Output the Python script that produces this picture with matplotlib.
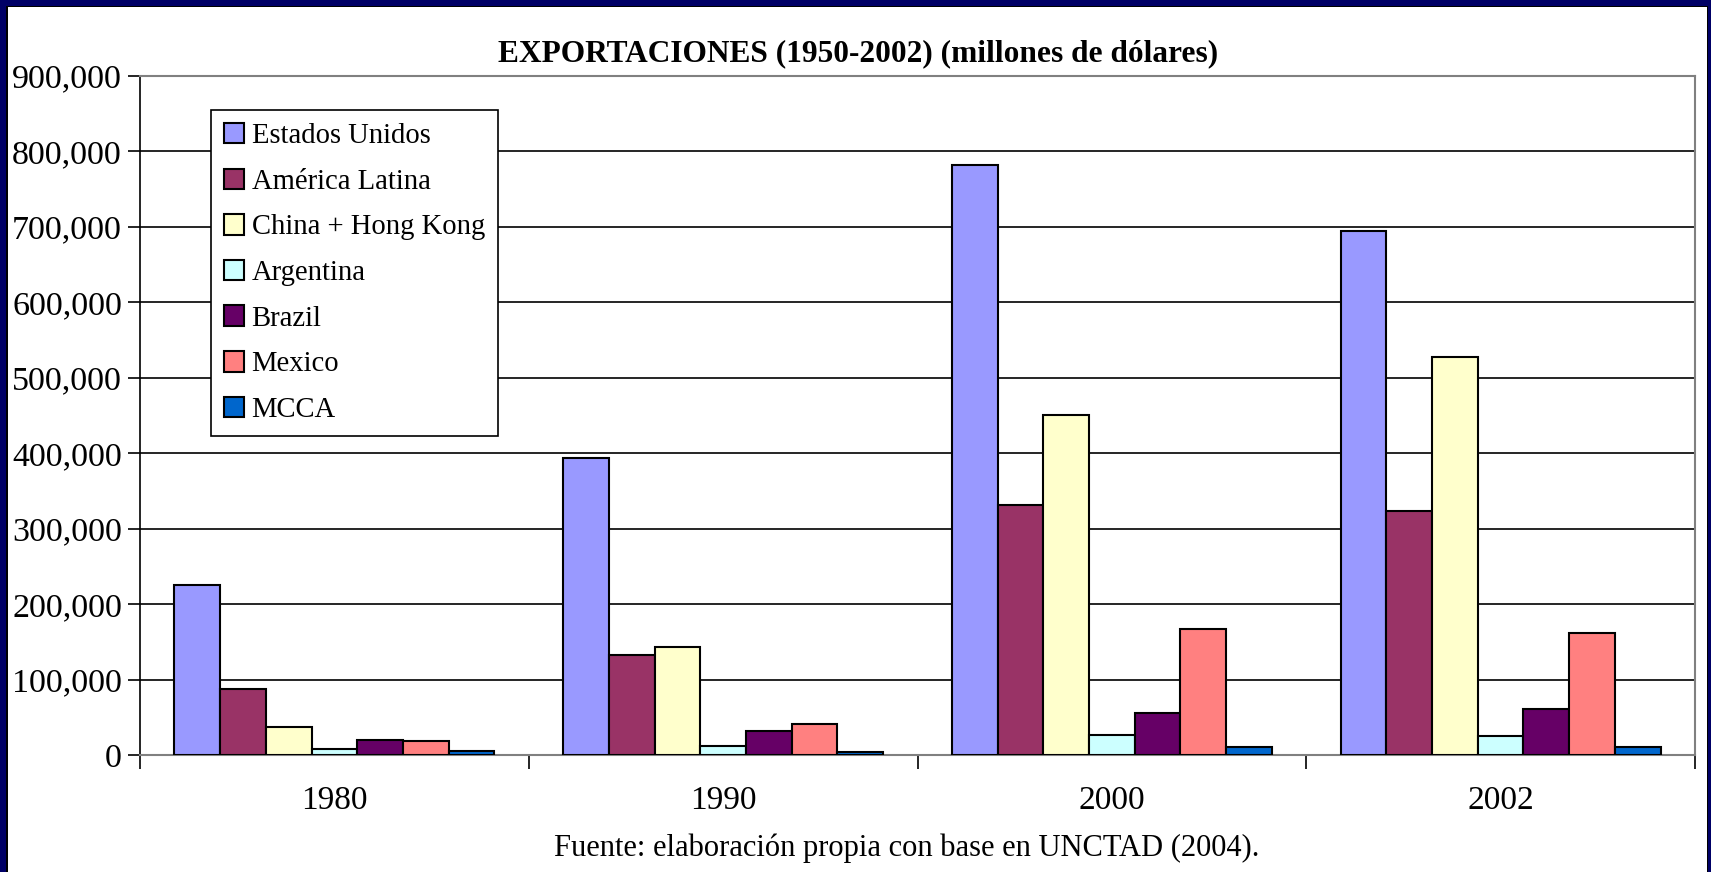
import matplotlib
matplotlib.use("Agg")
import matplotlib.pyplot as plt
import numpy as np
from matplotlib.patches import Rectangle
from matplotlib.ticker import FuncFormatter

# datos (millones de dólares)
anios = ["1980", "1990", "2000", "2002"]
series = ["Estados Unidos", "América Latina", "China + Hong Kong",
          "Argentina", "Brazil", "Mexico", "MCCA"]
estados_unidos = [225600, 394000, 782000, 694000]
america_latina = [87000, 133000, 331000, 324000]
china_hk = [37500, 143000, 451000, 528000]
argentina = [8000, 12400, 26300, 25700]
brazil = [20500, 31500, 55500, 60500]
mexico = [18500, 40500, 166500, 161500]
mcca = [5000, 4500, 11000, 11000]
valores = [estados_unidos, america_latina, china_hk, argentina, brazil, mexico, mcca]
colores = ["#9999FF", "#993366", "#FFFFCC", "#CCFFFF", "#660066", "#FF8080", "#0066CC"]

plt.rcParams["font.family"] = ["Liberation Serif", "DejaVu Serif"]

fig = plt.figure(figsize=(17.11, 8.72), dpi=100)
fig.patch.set_facecolor("#000066")
W, H = 1711, 872
# fondo blanco con marco negro fino
fig.patches.append(Rectangle((6 / W, 0), (1708 - 6) / W, (872 - 6) / H,
                             transform=fig.transFigure, facecolor="black",
                             edgecolor="none", zorder=-2))
fig.patches.append(Rectangle((8 / W, 0), (1707 - 8) / W, (872 - 7) / H,
                             transform=fig.transFigure, facecolor="white",
                             edgecolor="none", zorder=-1))

ax = fig.add_axes([140 / W, 1 - 755 / H, (1695 - 140) / W, (755 - 76) / H])
ax.set_zorder(2)
ax.set_facecolor("white")

n = len(series)
gap = 1.5
ancho = 1 / (n + gap)
x = np.arange(len(anios))
for i, (nombre, vals, c) in enumerate(zip(series, valores, colores)):
    pos = x - 0.5 + ancho * (gap / 2) + ancho * (i + 0.5)
    ax.bar(pos, vals, width=ancho, color=c, edgecolor="black", linewidth=1.5,
           label=nombre, zorder=3)

ax.set_xlim(-0.5, len(anios) - 0.5)
ax.set_ylim(0, 900000)
ax.set_yticks(np.arange(0, 900001, 100000))
ax.yaxis.set_major_formatter(FuncFormatter(lambda v, p: f"{int(v):,}"))
ax.yaxis.grid(True, color="black", linewidth=1.2, zorder=0)
ax.set_axisbelow(True)

ax.set_xticks(x)
ax.set_xticklabels(anios)
ax.set_xticks(np.arange(-0.5, len(anios)), minor=True)
ax.tick_params(axis="x", which="major", length=0, pad=22, labelsize=24)
ax.tick_params(axis="x", which="minor", length=10, width=1.2, direction="out")
ax.tick_params(axis="y", length=9, width=1.2, direction="out", pad=4, labelsize=24.5)

for lado in ["top", "right"]:
    ax.spines[lado].set_color("#808080")
    ax.spines[lado].set_linewidth(1.5)
ax.spines["left"].set_color("black")
ax.spines["left"].set_linewidth(1.2)
ax.spines["bottom"].set_color("#808080")
ax.spines["bottom"].set_linewidth(1.5)

fig.text(786 * 1.0912 / W, 1 - 54 / H, "EXPORTACIONES (1950-2002) (millones de dólares)",
         ha="center", va="center", fontsize=22.6, fontweight="bold")
fig.text(831 * 1.0912 / W, 1 - 848 / H, "Fuente: elaboración propia con base en UNCTAD (2004).",
         ha="center", va="center", fontsize=22)

leg = ax.legend(loc="upper left", bbox_to_anchor=((211 - 140) / (1695 - 140), (755 - 110) / (755 - 76)),
                fontsize=20.6, frameon=True, fancybox=False, edgecolor="black",
                framealpha=1, borderpad=0.45, labelspacing=0.68, handlelength=0.72,
                handleheight=0.72, handletextpad=0.25, borderaxespad=0)
leg.get_frame().set_linewidth(1.2)

fig.savefig("out.png", dpi=100, facecolor=fig.get_facecolor())
